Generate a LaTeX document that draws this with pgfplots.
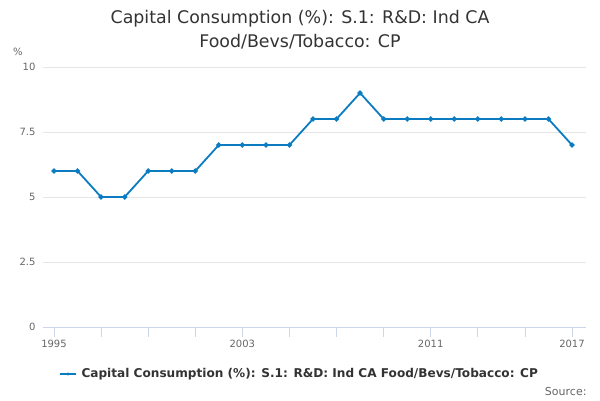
\documentclass[border=0pt]{standalone}
\usepackage{pgfplots}
\pgfplotsset{compat=1.18}
\usepackage{fontspec}
\setmainfont{DejaVu Sans}
\definecolor{ser}{HTML}{0B7CC1}
\definecolor{txt}{HTML}{333333}
\definecolor{lab}{HTML}{666666}
\definecolor{gridc}{HTML}{E6E6E6}
\definecolor{axc}{HTML}{CCD6EB}
\pgfplotstableread{
year val
1995 6
1996 6
1997 5
1998 5
1999 6
2000 6
2001 6
2002 7
2003 7
2004 7
2005 7
2006 8
2007 8
2008 9
2009 8
2010 8
2011 8
2012 8
2013 8
2014 8
2015 8
2016 8
2017 7
}\datatable
\begin{document}
\begin{tikzpicture}[x=1pt,y=1pt]
\path[use as bounding box] (0,0) rectangle (600,400);
\begin{axis}[
  at={(43pt,73pt)}, anchor=south west,
  scale only axis, width=543pt, height=260pt,
  xmin=1994.533, xmax=2017.595, ymin=0, ymax=10,
  axis line style={draw=none},
  axis x line*=bottom,
  axis y line*=left,
  ytick={0,2.5,5,7.5,10},
  yticklabels={0,2.5,5,7.5,10},
  ymajorgrids, grid style={gridc, line width=0.8pt},
  xtick={1995,1997,...,2017},
  xticklabels={1995,,,,2003,,,,2011,,,2017},
  x tick style={axc, line width=0.8pt},
  major tick length=10pt,
  xtick align=outside,
  y tick style={draw=none},
  yticklabel style={xshift=-4pt},
  tick label style={font=\fontsize{10}{12}\selectfont, lab},
  /pgf/number format/assume math mode=true,
  clip=false,
]
\draw[axc, line width=0.8pt] (rel axis cs:0,0) -- (rel axis cs:1,0);
\addplot[ser, line width=1.8pt, mark=*, mark size=1.6pt, mark options={solid, fill=ser, draw=ser}] table[x=year,y=val]{\datatable};
\end{axis}
\node[txt, font=\fontsize{17.4}{24}\selectfont, align=center] at (300,370) {Capital Consumption (\%): S.1: R\&D: Ind CA\\Food/Bevs/Tobacco: CP};
\node[lab, font=\fontsize{10}{12}\selectfont] at (18,348) {\%};
\draw[ser, line width=1.8pt] (60,26) -- (76,26);
\fill[ser] (68,26) circle (1.6);
\node[txt, font=\bfseries\fontsize{12.1}{14}\selectfont, anchor=west] at (78,26) {Capital Consumption (\%): S.1: R\&D: Ind CA Food/Bevs/Tobacco: CP};
\node[lab, font=\fontsize{11}{13}\selectfont, anchor=east] at (590,9) {Source:};
\end{tikzpicture}
\end{document}
